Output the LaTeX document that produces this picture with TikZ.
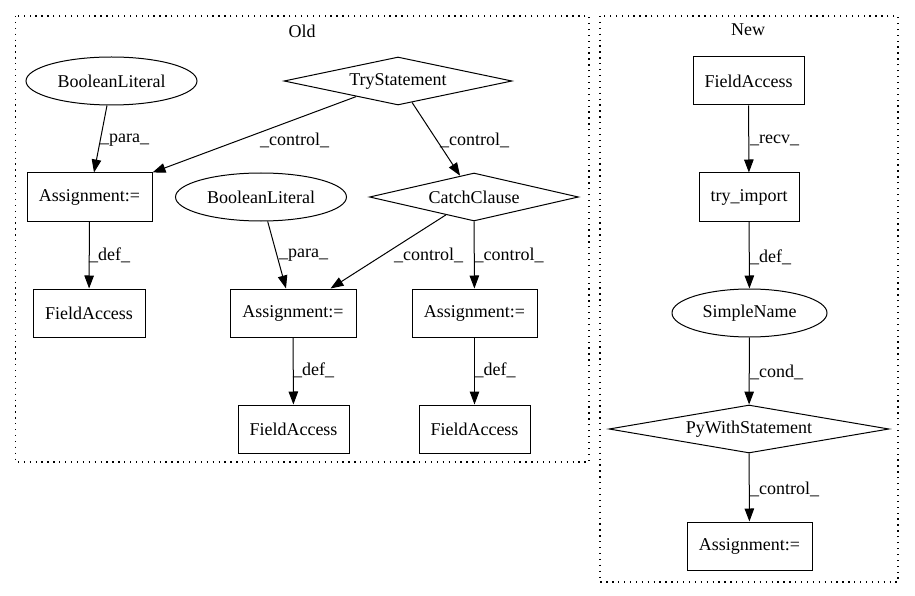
\documentclass[tikz,border=0pt]{standalone}
\usepackage{fontspec}
\setmainfont{Liberation Serif}
\usetikzlibrary{shapes.geometric,arrows.meta,calc}
\begin{document}
\begin{tikzpicture}[x=1pt,y=-1pt,
  every node/.style={font=\fontsize{18}{20}\selectfont, inner sep=0pt},
  box/.style={draw, line width=1pt, rectangle, minimum height=48pt},
  ell/.style={draw, line width=1pt, ellipse, minimum height=48pt},
  dia/.style={draw, line width=1pt, diamond, minimum height=48pt},
  lbl/.style={anchor=west},
  arr/.style={line width=1pt, -{Triangle[length=13pt,width=9.5pt]}},
  cluster/.style={line width=1.2pt, dash pattern=on 1.3pt off 4.6pt}
]
\useasboundingbox (0,0) rectangle (915,596);
% clusters
\draw[cluster] (15.5,16) rectangle (589,462);
\draw[cluster] (600,16) rectangle (898,582);
\node (oldlbl) at (302,31) {Old};
\node (newlbl) at (748,30) {New};

% Old nodes
\node[ell, minimum width=171pt] (bl1) at (111.5,81) {BooleanLiteral};
\node[dia, minimum width=228pt, shape aspect=4.75] (try) at (398,81) {TryStatement};
\node[box, minimum width=125pt] (a1) at (89.5,197) {Assignment:=};
\node[ell, minimum width=171pt] (bl2) at (261,197) {BooleanLiteral};
\node[dia, minimum width=209pt, shape aspect=4.35] (cc) at (474,197) {CatchClause};
\node[box, minimum width=112pt] (fa1) at (89,313) {FieldAccess};
\node[box, minimum width=126pt] (a2) at (293,313) {Assignment:=};
\node[box, minimum width=125pt] (a3) at (474.5,313) {Assignment:=};
\node[box, minimum width=111pt] (fa2) at (293.5,429) {FieldAccess};
\node[box, minimum width=111pt] (fa3) at (474.5,429) {FieldAccess};

% New nodes
\node[box, minimum width=111pt] (nfa) at (748.5,81) {FieldAccess};
\node[box, minimum width=100pt] (ti) at (749,197) {try\_import};
\node[ell, minimum width=155pt] (sn) at (749.5,313) {SimpleName};
\node[dia, minimum width=280pt, shape aspect=5.83] (pw) at (749,429) {PyWithStatement};
\node[box, minimum width=125pt] (na) at (749.5,546) {Assignment:=};

% Old edges
\draw[arr] ([xshift=-4.5pt]bl1.south) -- ([xshift=4.5pt]a1.north);
\draw[arr] (try) -- (a1.north east);
\draw[arr] (try) -- (cc);
\draw[arr] (a1) -- (fa1);
\draw[arr] (bl2) -- ([xshift=-7pt]a2.north);
\draw[arr] (cc) -- ([xshift=-26pt]a2.north east);
\draw[arr] (cc) -- (a3);
\draw[arr] (a2) -- (fa2);
\draw[arr] (a3) -- (fa3);

% New edges
\draw[arr] (nfa) -- (ti);
\draw[arr] (ti) -- (sn);
\draw[arr] (sn) -- (pw);
\draw[arr] (pw) -- (na);

% edge labels
\node[lbl] (l1) at (100,140) {\_para\_};
\node[lbl] (l2) at (260,140) {\_control\_};
\node[lbl] (l3) at (440,140) {\_control\_};
\node[lbl] (l4) at (89,255) {\_def\_};
\node[lbl] (l5) at (279,255) {\_para\_};
\node[lbl] (l6) at (394,255) {\_control\_};
\node[lbl] (l7) at (474.5,255) {\_control\_};
\node[lbl] (l8) at (293,370) {\_def\_};
\node[lbl] (l9) at (474.5,370) {\_def\_};
\node[lbl] (l10) at (750,140) {\_recv\_};
\node[lbl] (l11) at (750,257) {\_def\_};
\node[lbl] (l12) at (750,372) {\_cond\_};
\node[lbl] (l13) at (750,489) {\_control\_};
\end{tikzpicture}
\end{document}
